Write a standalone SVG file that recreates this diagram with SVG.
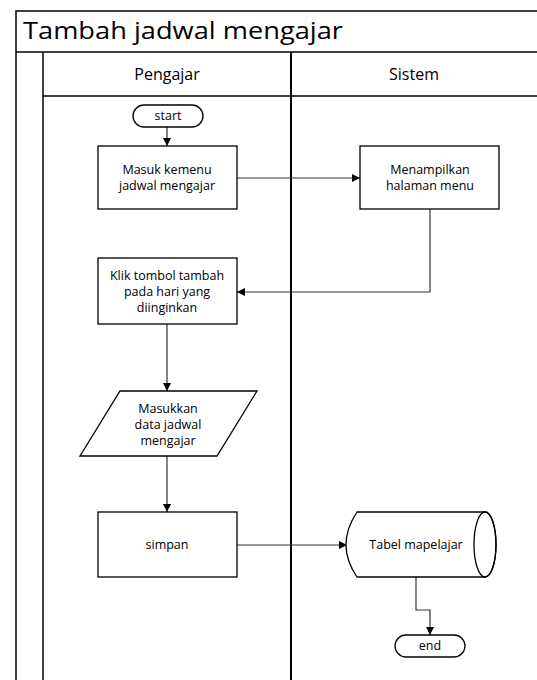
<svg xmlns="http://www.w3.org/2000/svg" width="537" height="680" viewBox="0 0 537 680">
<defs>
<marker id="arr" viewBox="0 0 10 10" refX="10" refY="5" markerWidth="8" markerHeight="8" markerUnits="userSpaceOnUse" orient="auto">
<path d="M0,0 L10,5 L0,10 z" fill="#000"/>
</marker>
</defs>
<style>
.frame{fill:none;stroke:#000;stroke-width:1.5}
.lane{fill:none;stroke:#000;stroke-width:2}
.shape{fill:#fff;stroke:#000;stroke-width:1.3}
.conn{fill:none;stroke:#333;stroke-width:1.2}
.t{font-family:"Open Sans","Noto Sans","Liberation Sans",sans-serif;fill:#000;text-anchor:middle}
.s{font-size:12.5px}
.h{font-size:16px}
</style>
<rect width="537" height="680" fill="#fff"/>
<g id="frame">
<rect class="frame" x="16" y="11" width="530" height="680"/>
<line class="frame" x1="16" y1="52" x2="537" y2="52"/>
<line class="frame" x1="43" y1="52" x2="43" y2="680"/>
<line class="frame" x1="43" y1="96" x2="537" y2="96"/>
<line class="lane" x1="291" y1="52" x2="291" y2="680"/>
<text class="t" x="23" y="39" style="text-anchor:start;font-size:23px" textLength="320" lengthAdjust="spacingAndGlyphs">Tambah jadwal mengajar</text>
<text class="t h" x="167" y="80">Pengajar</text>
<text class="t h" x="414" y="80">Sistem</text>
</g>
<g id="connectors">
<line class="conn" x1="167" y1="127" x2="167" y2="146" marker-end="url(#arr)"/>
<line class="conn" x1="237" y1="178" x2="360" y2="178" marker-end="url(#arr)"/>
<polyline class="conn" points="430,209 430,292 237,292" marker-end="url(#arr)"/>
<line class="conn" x1="167" y1="324" x2="167" y2="391" marker-end="url(#arr)"/>
<line class="conn" x1="167" y1="456" x2="167" y2="512" marker-end="url(#arr)"/>
<line class="conn" x1="237" y1="545" x2="347" y2="545" marker-end="url(#arr)"/>
<polyline class="conn" points="416,577 416,610 430,610 430,635" marker-end="url(#arr)"/>
</g>
<g id="start">
<rect class="shape" x="133" y="105" width="70" height="22" rx="11"/>
<text class="t s" x="168" y="120">start</text>
</g>
<g id="masuk">
<rect class="shape" x="98" y="146" width="139" height="63"/>
<text class="t s" x="167" y="174">Masuk kemenu</text>
<text class="t s" x="167" y="190">jadwal mengajar</text>
</g>
<g id="menampilkan">
<rect class="shape" x="360" y="146" width="139" height="63"/>
<text class="t s" x="430" y="174">Menampilkan</text>
<text class="t s" x="430" y="190">halaman menu</text>
</g>
<g id="klik">
<rect class="shape" x="98" y="258" width="139" height="66"/>
<text class="t s" x="167" y="280">Klik tombol tambah</text>
<text class="t s" x="167" y="296">pada hari yang</text>
<text class="t s" x="167" y="312">diinginkan</text>
</g>
<g id="masukkan">
<polygon class="shape" points="120,391 257,391 217,456 80,456"/>
<text class="t s" x="168" y="413">Masukkan</text>
<text class="t s" x="168" y="429">data jadwal</text>
<text class="t s" x="168" y="445">mengajar</text>
</g>
<g id="simpan">
<rect class="shape" x="98" y="512" width="139" height="65"/>
<text class="t s" x="167" y="549">simpan</text>
</g>
<g id="tabel">
<path class="shape" d="M357,512 L485,512 A11,32.5 0 0 1 485,577 L357,577 Q335,545 357,512 z"/>
<ellipse class="shape" cx="485" cy="544.5" rx="11" ry="32.5" style="fill:none"/>
<text class="t s" x="416" y="549">Tabel mapelajar</text>
</g>
<g id="end">
<rect class="shape" x="395" y="635" width="70" height="22" rx="11"/>
<text class="t s" x="430" y="650">end</text>
</g>
</svg>
